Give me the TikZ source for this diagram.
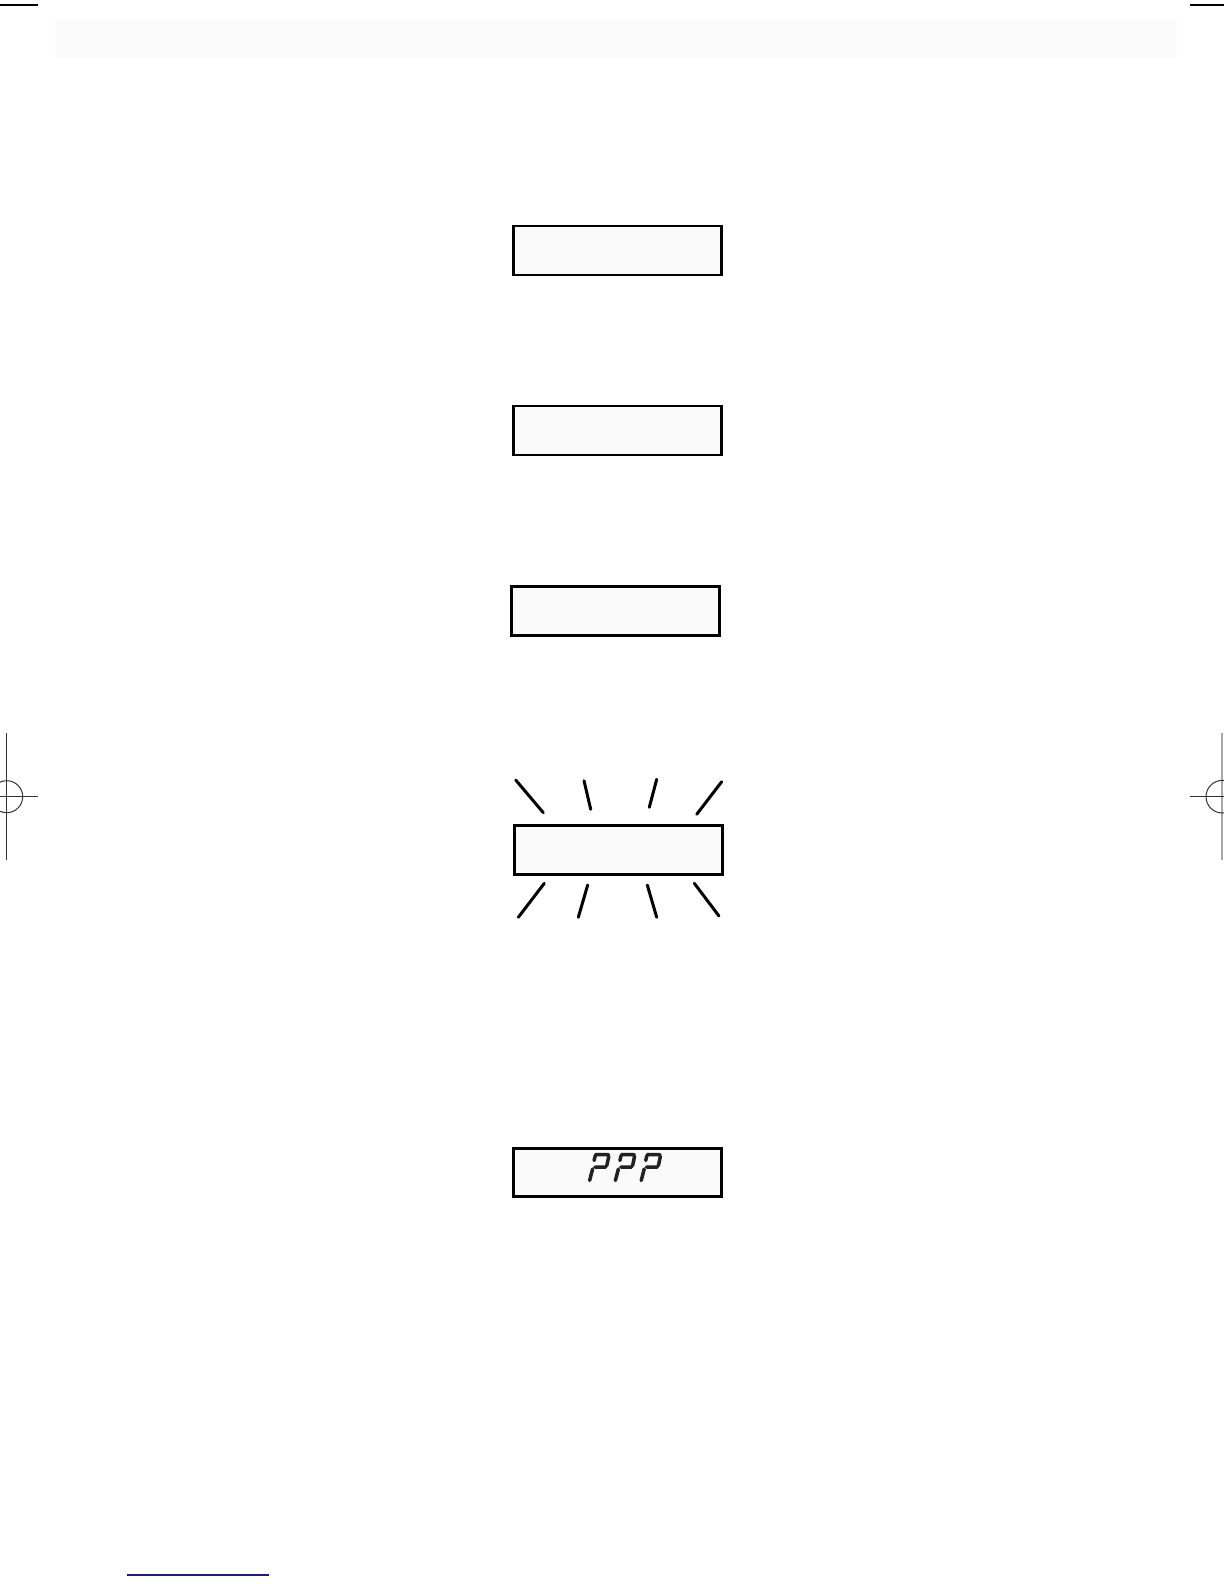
\documentclass[tikz,border=0pt]{standalone}
\usetikzlibrary{calc}
\definecolor{boxfill}{HTML}{FAFAFA}
\definecolor{bandfill}{HTML}{FBFBFB}
\definecolor{navyline}{HTML}{1A1A8C}
\definecolor{segcol}{HTML}{222222}
\definecolor{regcol}{HTML}{333333}
\tikzset{
  lcdbox/.style={draw=black, fill=boxfill, line width=1.4pt, minimum width=104pt, minimum height=24.5pt, inner sep=0pt},
  flash/.style={line width=1.5pt, line cap=round},
  regmark/.style={draw=regcol, line width=0.5pt},
  qmark/.pic={
    \draw[segcol, line width=1.75pt, line cap=round, line join=round]
      (0.7,-0.5) -- (13.3,-0.5)
      (0.2,0.8) -- (-0.9,5.5)
      (13.8,1.2) -- (11.8,10.6)
      (0,12) -- (10.8,12)
      (-2.4,14) -- (-5.4,25.5);
  }
}
\begin{document}
\begin{tikzpicture}[x=0.5pt, y=-0.5pt]
\useasboundingbox (0,0) rectangle (1224,1584);
\fill[white] (0,0) rectangle (1224,1584);
% faint header band
\fill[bandfill] (55,20) rectangle (1177,58);
% corner crop marks
\draw[black, line width=0.6pt] (0,5) -- (37.7,5);
\draw[black, line width=0.6pt] (1190,5) -- (1224,5);
% left registration mark
\draw[regmark] (6.7,733) -- (6.7,860);
\draw[regmark] (0,796.7) -- (38,796.7);
\draw[regmark] (6.7,796.7) circle[radius=16];
% right registration mark
\draw[gray!70, line width=1pt] (1222.3,733) -- (1222.3,860);
\draw[regmark] (1190,796.7) -- (1224,796.7);
\draw[regmark] (1222.3,796.7) circle[radius=16.3];
% display boxes
\node[lcdbox] (b1) at (617.5,250.5) {};
\node[lcdbox] (b2) at (617.5,430.5) {};
\node[lcdbox, line width=1.5pt] (b3) at (615.3,611.2) {};
\node[lcdbox, line width=1.5pt] (b4) at (618.7,849.5) {};
\node[lcdbox, line width=1.3pt, minimum height=24pt] (b5) at (617.7,1172.7) {};
% flashing lines
\draw[flash] (515.7,780) -- (543.3,812.7);
\draw[flash] (584,780.7) -- (590.7,809.3);
\draw[flash] (656.7,779.3) -- (649.3,807.3);
\draw[flash] (721.7,781.7) -- (696.7,814.3);
\draw[flash] (544.3,883.3) -- (518.3,917.3);
\draw[flash] (587.7,885) -- (578.3,917.3);
\draw[flash] (647.3,885) -- (656.7,917.3);
\draw[flash] (694.3,883.3) -- (719,916);
% 7-segment question marks
\pic at (595,1155) {qmark};
\pic at (620.8,1155) {qmark};
\pic at (646.6,1155) {qmark};
% bottom navy line
\draw[navyline, line width=0.7pt] (126.7,1575) -- (269,1575);
\end{tikzpicture}
\end{document}
